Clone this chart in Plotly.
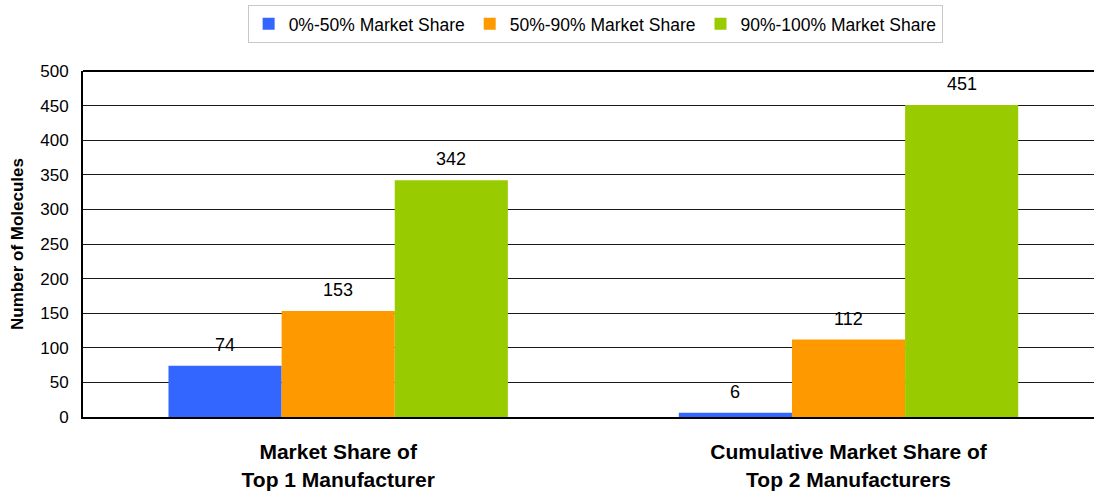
import plotly.graph_objects as go

categories = ["Market Share of<br>Top 1 Manufacturer", "Cumulative Market Share of<br>Top 2 Manufacturers"]
series_names = ["0%-50% Market Share", "50%-90% Market Share", "90%-100% Market Share"]
series_values = [
    [74, 6],
    [153, 112],
    [342, 451],
]
colors = ["#3366FF", "#FF9900", "#99CC00"]
y_ticks = [0, 50, 100, 150, 200, 250, 300, 350, 400, 450, 500]

FONT = "Liberation Sans, Arial, sans-serif"
W, H = 1094, 493
ML, MR, MT, MB = 83, 0, 71, 76
X_RANGE = [-0.5, 1.481]
BARGAP = 0.335

fig = go.Figure()
for name, vals, col in zip(series_names, series_values, colors):
    fig.add_trace(go.Bar(
        x=categories, y=vals, name=name,
        marker=dict(color=col, line=dict(width=0)),
    ))

# data labels as annotations offset to each bar of the group
px_per_cat = (W - ML - MR) / (X_RANGE[1] - X_RANGE[0])
bar_px = px_per_cat * (1 - BARGAP) / len(series_names)
annotations = []
for si, vals in enumerate(series_values):
    shift = (si - (len(series_names) - 1) / 2) * bar_px
    for cat, v in zip(categories, vals):
        annotations.append(dict(
            x=cat, y=v, xref="x", yref="y", text=str(v), showarrow=False,
            xshift=shift, yshift=9, yanchor="bottom",
            font=dict(family=FONT, size=18, color="#000"),
        ))

fig.update_layout(
    width=W, height=H,
    margin=dict(l=ML, r=MR, t=MT, b=MB, autoexpand=False),
    paper_bgcolor="white", plot_bgcolor="white",
    barmode="group", bargap=BARGAP, bargroupgap=0,
    font=dict(family=FONT, size=17, color="#000"),
    showlegend=True,
    legend=dict(orientation="h", x=0.544, xanchor="center", xref="container",
                y=0.99, yref="container", yanchor="top",
                bordercolor="#C8C8C8", borderwidth=1,
                font=dict(size=17.5, family=FONT, color="#000"), traceorder="normal"),
    annotations=annotations,
)
fig.update_xaxes(
    range=X_RANGE, showgrid=False, showline=True, linecolor="#000", linewidth=2,
    tickfont=dict(size=21, family=FONT, color="#000", weight="bold"),
    ticks="", automargin=False, ticklabelstandoff=15,
)
fig.update_yaxes(
    range=[0, 500], tickvals=y_ticks, showgrid=True, gridcolor="#1a1a1a", gridwidth=1,
    showline=True, linecolor="#000", linewidth=2, ticks="",
    tickfont=dict(size=17, family=FONT, color="#000"), ticklabelstandoff=9,
    title=dict(text="<b>Number of Molecules</b>", font=dict(size=17, family=FONT), standoff=12),
    zeroline=False, automargin=False,
)
# top border line of plot area
fig.add_shape(type="line", xref="paper", yref="paper", x0=0, x1=1, y0=1, y1=1,
              line=dict(color="#000", width=2))
fig.write_html("out.html", config={"displayModeBar": False},
               post_script="document.body.style.margin='0';document.body.style.overflow='hidden';")
